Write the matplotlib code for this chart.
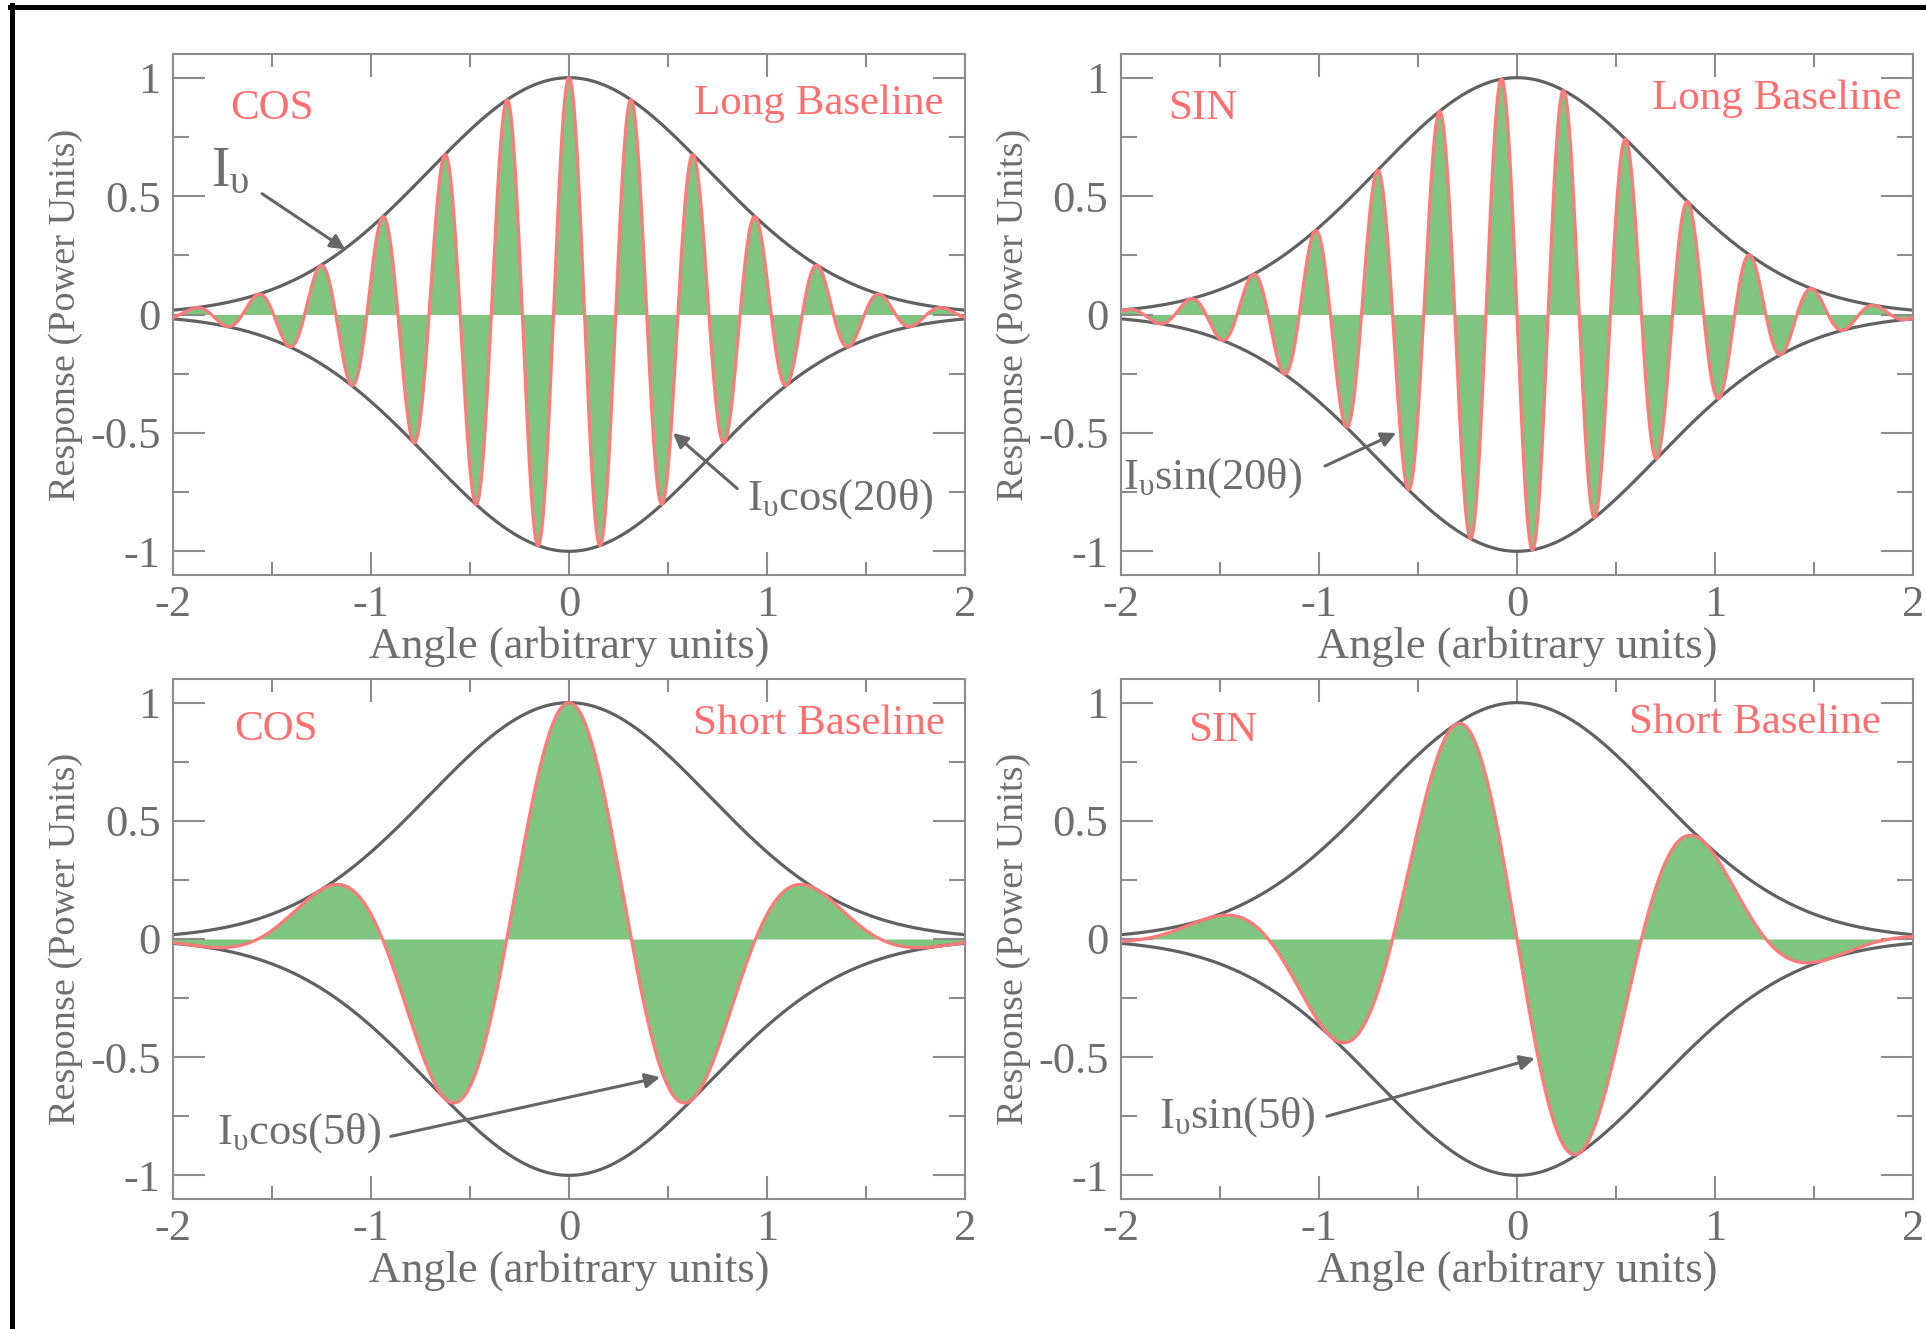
import numpy as np
import matplotlib
matplotlib.use('Agg')
import matplotlib.pyplot as plt
from matplotlib.lines import Line2D
from matplotlib.ticker import FixedLocator, MultipleLocator

plt.rcParams['font.family'] = ['Liberation Serif', 'DejaVu Serif']
plt.rcParams['mathtext.fontset'] = 'custom'
plt.rcParams['mathtext.rm'] = 'Liberation Serif'
plt.rcParams['mathtext.it'] = 'Liberation Serif:italic'
plt.rcParams['axes.unicode_minus'] = False

# ---------------- data ----------------
panel_funcs = ['cos', 'sin', 'cos', 'sin']          # fringe type
panel_freqs = [20, 20, 5, 5]                        # fringe frequency (long / short baseline)
panel_signs = [1, -1, 1, -1]                        # sign of fringe as drawn
panel_tags = ['COS', 'SIN', 'COS', 'SIN']
panel_baselines = ['Long Baseline', 'Long Baseline', 'Short Baseline', 'Short Baseline']
envelope_width = 1.0                                # I_v = exp(-(theta/width)^2)
angle_range = (-2.0, 2.0)
x_ticks = [-2, -1, 0, 1, 2]
x_ticklabels = ['-2', '-1', '0', '1', '2']
y_ticks = [-1, -0.5, 0, 0.5, 1]
y_ticklabels = ['-1', '-0.5', '0', '0.5', '1']
annot_labels = [r'$\mathrm{I_{\upsilon}cos(20\theta)}$',
                r'$\mathrm{I_{\upsilon}sin(20\theta)}$',
                r'$\mathrm{I_{\upsilon}cos(5\theta)}$',
                r'$\mathrm{I_{\upsilon}sin(5\theta)}$']
# text position, arrow tail, arrow head (data coords)
annot_text_xy = [(0.90, -0.78), (-1.99, -0.69), (-1.78, -0.82), (-1.81, -0.755)]
annot_tail_xy = [(0.85, -0.735), (-0.97, -0.64), (-0.90, -0.835), (-0.96, -0.75)]
annot_head_xy = [(0.525, -0.50), (-0.61, -0.50), (0.46, -0.585), (0.09, -0.505)]
tag_xy = [(-1.71, 0.87), (-1.76, 0.87), (-1.69, 0.885), (-1.66, 0.88)]
baseline_xy = [(1.89, 0.89), (1.94, 0.91), (1.90, 0.91), (1.84, 0.915)]
iv_label = r'$\mathrm{I_{\upsilon}}$'
iv_text_xy = (-1.81, 0.60)
iv_tail_xy = (-1.55, 0.51)
iv_head_xy = (-1.13, 0.275)

# ---------------- style ----------------
GREEN = '#7fc47f'
RED = '#ff7a7a'
ENV = '#616161'
AXC = '#8c8c8c'
TXT = '#6e6e6e'
LABRED = '#ff6e6e'

W, H = 1926, 1329
fig = plt.figure(figsize=(W / 100, H / 100), dpi=100)
fig.patch.set_facecolor('white')

ax_px = [(173, 54, 965, 575), (1121, 54, 1913, 575),
         (173, 679, 965, 1199), (1121, 679, 1913, 1199)]

theta = np.linspace(angle_range[0], angle_range[1], 6000)
env = np.exp(-(theta / envelope_width) ** 2)

for i, (l, t, r, b) in enumerate(ax_px):
    ax = fig.add_axes([l / W, 1 - b / H, (r - l) / W, (b - t) / H])
    f = np.cos if panel_funcs[i] == 'cos' else np.sin
    y = panel_signs[i] * env * f(panel_freqs[i] * theta)
    ax.fill_between(theta, y, 0, color=GREEN, linewidth=0, zorder=1)
    ax.plot(theta, env, color=ENV, lw=2.3, zorder=2)
    ax.plot(theta, -env, color=ENV, lw=2.3, zorder=2)
    ax.plot(theta, y, color=RED, lw=2.3, zorder=3)

    ax.set_xlim(*angle_range)
    ax.set_ylim(-1.1, 1.1)
    ax.xaxis.set_major_locator(FixedLocator(x_ticks))
    ax.set_xticklabels(x_ticklabels)
    ax.yaxis.set_major_locator(FixedLocator(y_ticks))
    ax.set_yticklabels(y_ticklabels)
    ax.xaxis.set_minor_locator(MultipleLocator(0.5))
    ax.yaxis.set_minor_locator(MultipleLocator(0.25))
    ax.tick_params(axis='both', which='both', direction='in', top=True, right=True,
                   color=AXC, width=1.5, labelcolor=TXT, labelsize=32)
    ax.tick_params(axis='x', which='major', length=16.5, pad=7)
    ax.tick_params(axis='x', which='minor', length=9.5)
    ax.tick_params(axis='y', which='major', length=23, pad=9)
    ax.tick_params(axis='y', which='minor', length=11.5)
    for s in ax.spines.values():
        s.set_color(AXC)
        s.set_linewidth(1.5)

    ax.set_xlabel('Angle (arbitrary units)', fontsize=32, color=TXT, labelpad=1)
    ax.set_ylabel('Response (Power Units)', fontsize=27.5, color=TXT, labelpad=5)

    ax.text(*tag_xy[i], panel_tags[i], color=LABRED, fontsize=31, ha='left', va='center')
    ax.text(*baseline_xy[i], panel_baselines[i], color=LABRED, fontsize=31,
            ha='right', va='center')

    ax.text(*annot_text_xy[i], annot_labels[i], color=TXT, fontsize=32,
            ha='left', va='center')
    ax.annotate('', xy=annot_head_xy[i], xytext=annot_tail_xy[i],
                arrowprops=dict(arrowstyle='-|>', color='#666666', lw=2.2,
                                mutation_scale=22, shrinkA=0, shrinkB=0))
    if i == 0:
        ax.text(*iv_text_xy, iv_label, color=TXT, fontsize=40, ha='left', va='center')
        ax.annotate('', xy=iv_head_xy, xytext=iv_tail_xy,
                    arrowprops=dict(arrowstyle='-|>', color='#666666', lw=2.2,
                                    mutation_scale=22, shrinkA=0, shrinkB=0))

# black frame fragments (left and top edges)
fig.add_artist(Line2D([12 / W, 12 / W], [0, 1 - 5 / H], color='black', lw=3.6,
                      transform=fig.transFigure))
fig.add_artist(Line2D([10 / W, 1], [1 - 7 / H, 1 - 7 / H], color='black', lw=3.6,
                      transform=fig.transFigure))

fig.savefig('out.png', dpi=100, facecolor='white')
